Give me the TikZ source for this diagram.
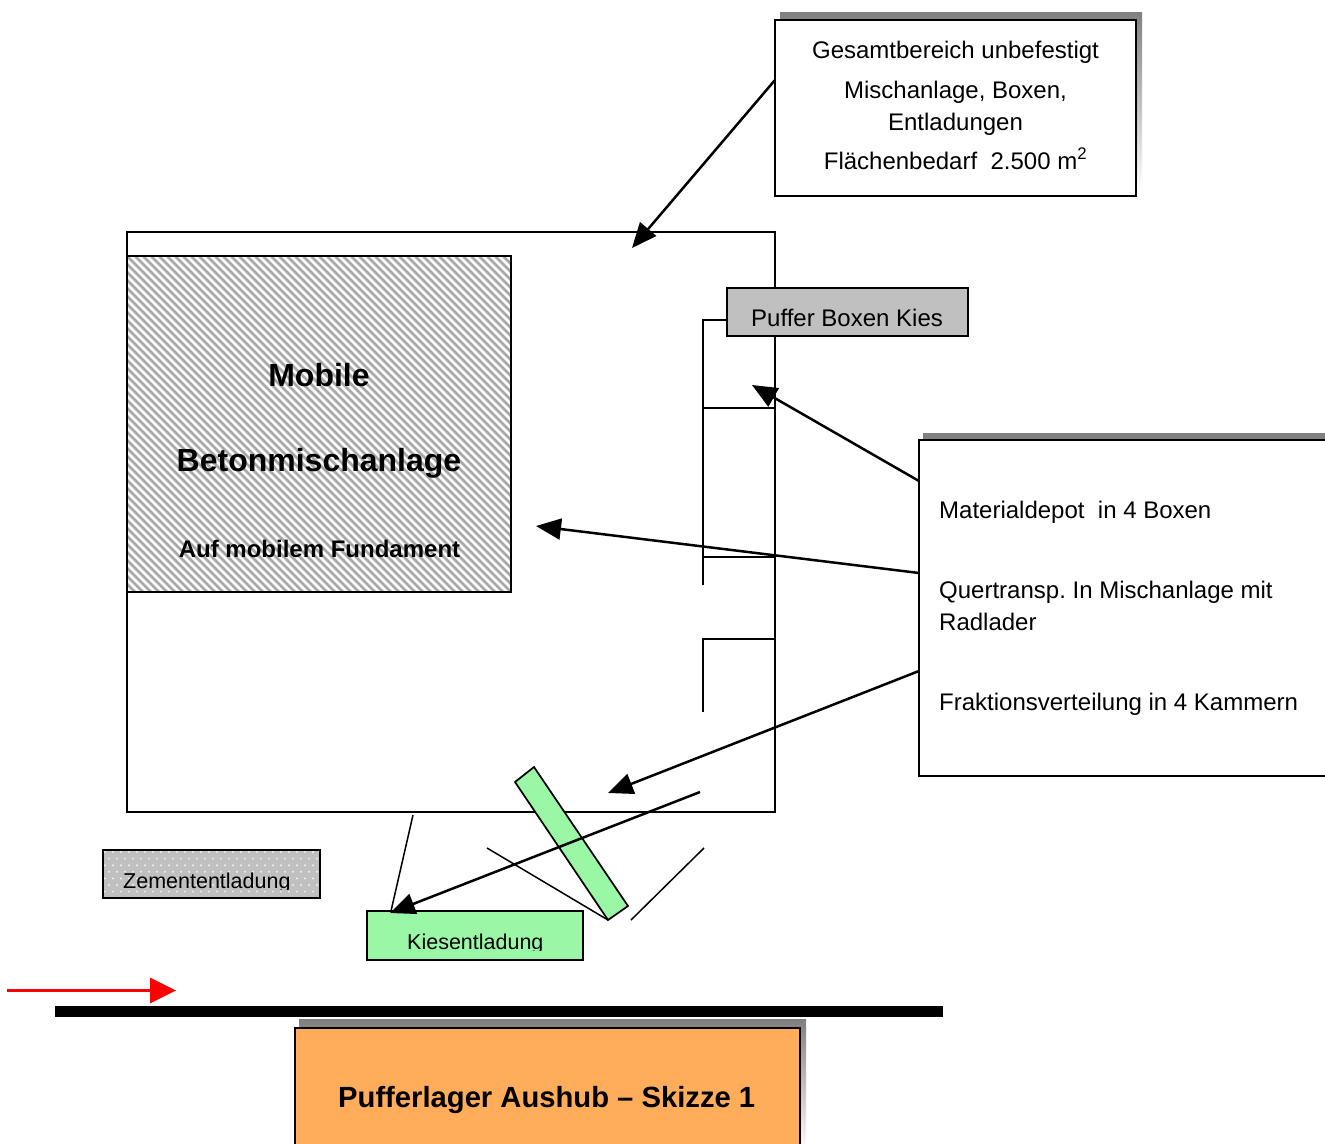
\documentclass[tikz,border=0pt]{standalone}
\usepackage{fontspec}
\setmainfont{Liberation Sans}
\usetikzlibrary{arrows.meta}
\definecolor{shade}{HTML}{808080}
\definecolor{boxgray}{HTML}{C0C0C0}
\definecolor{stripe}{HTML}{A8A8A8}
\definecolor{kies}{HTML}{99F7A6}
\definecolor{orangebox}{HTML}{FFAD5B}
\tikzset{
  x=1pt,y=-1pt,
  line/.style={draw=black,line width=1.7pt},
  thin line/.style={draw=black,line width=1.5pt},
  pointer/.style={draw=black,line width=2.5pt,-{Triangle[length=25pt,width=21pt]}},
  boxnode/.style={draw=black,line width=1.7pt,anchor=north west,inner sep=0pt,outer sep=0pt},
  label/.style={inner sep=0pt,font=\fontsize{24}{24}\selectfont},
  smalllabel/.style={inner sep=0pt,font=\fontsize{21.5}{24}\selectfont},
  bigbold/.style={inner sep=0pt,font=\fontsize{32}{32}\selectfont\bfseries},
}
\begin{document}
\frenchspacing
\begin{tikzpicture}
\useasboundingbox (0,0) rectangle (1325,1143);
\clip (0,0) rectangle (1325,1143);
% shadows
\fill[shade] (780,12) rectangle (1142,190);
\fill[shade] (923,433) rectangle (1335,780);
\fill[shade] (299,1019) rectangle (806,1150);
% main area
\node[boxnode,minimum width=648pt,minimum height=580pt] (area) at (127,232) {};
% hatched plant
\begin{scope}
\clip (127,256) rectangle (511,592);
\fill[white] (127,256) rectangle (511,592);
\foreach \k in {-50,...,60}
  \draw[draw=stripe,line width=2.8pt] (127+\k*8,256) -- ++(360,360);
\end{scope}
\node[boxnode,minimum width=384pt,minimum height=336pt] (plant) at (127,256) {};
\node[bigbold,anchor=base] (tmobile) at (319,386) {Mobile};
\node[bigbold,anchor=base] (tbeton) at (319,471) {Betonmischanlage};
\node[label,anchor=base,font=\fontsize{24}{24}\selectfont\bfseries] (tauf) at (319.5,557) {Auf mobilem Fundament};
% compartments
\coordinate (c1a) at (727,320); \coordinate (c1b) at (703,320); \coordinate (c1c) at (703,585);
\coordinate (c2a) at (703,408); \coordinate (c2b) at (775,408);
\coordinate (c3a) at (703,557); \coordinate (c3b) at (775,557);
\coordinate (c4a) at (775,639); \coordinate (c4b) at (703,639); \coordinate (c4c) at (703,712);
\draw[line] (c1a) -- (c1b) -- (c1c);
\draw[line] (c2a) -- (c2b);
\draw[line] (c3a) -- (c3b);
\draw[line] (c4a) -- (c4b) -- (c4c);
% puffer box
\node[boxnode,fill=boxgray,minimum width=241pt,minimum height=48pt] (puffer) at (727,288) {};
\node[label,anchor=base west] (tpuffer) at (751,326) {Puffer Boxen Kies};
% top info box
\node[boxnode,fill=white,minimum width=361pt,minimum height=176pt] (info) at (775,20) {};
\node[label,anchor=base] (i1) at (955.5,58) {Gesamtbereich unbefestigt};
\node[label,anchor=base] (i2) at (955.5,98) {Mischanlage, Boxen,};
\node[label,anchor=base] (i3) at (955.5,130) {Entladungen};
\node[label,anchor=base] (i4) at (955.5,169) {Flächenbedarf\ \ 2.500 m\textsuperscript{2}};
% right box
\node[boxnode,fill=white,minimum width=420pt,minimum height=336pt] (depot) at (919,440) {};
\node[label,anchor=base west] (d1) at (939,518) {Materialdepot\ \ in 4 Boxen};
\node[label,anchor=base west] (d2) at (939,598) {Quertransp. In Mischanlage mit};
\node[label,anchor=base west] (d3) at (939,630) {Radlader};
\node[label,anchor=base west] (d4) at (939,710) {Fraktionsverteilung in 4 Kammern};
% unloading boxes
\begin{scope}
\clip (103,850) rectangle (320,898);
\fill[boxgray] (103,850) rectangle (320,898);
\foreach \i in {0,...,27} \foreach \j in {0,...,6}
  \fill[white,opacity=.8] ({103+\i*8+mod(\j,2)*4+2},{852+\j*6.6}) circle (1.1pt);
\end{scope}
\node[boxnode,minimum width=217pt,minimum height=48pt] (zement) at (103,850) {};
\begin{scope}
\clip (103,850) rectangle (320,889);
\node[smalllabel,anchor=base west] (tzement) at (123,888) {Zemententladung};
\end{scope}
\node[boxnode,fill=kies,minimum width=216pt,minimum height=49pt] (kiesbox) at (367,911) {};
\begin{scope}
\clip (367,911) rectangle (583,950);
\node[smalllabel,anchor=base west] (tkies) at (407,949) {Kiesentladung};
\end{scope}
% lines and belt
\coordinate (l1a) at (413,815); \coordinate (l1b) at (391,911);
\coordinate (l2a) at (487,848); \coordinate (l2b) at (608,920);
\coordinate (l3a) at (704,848); \coordinate (l3b) at (631,920);
\draw[thin line] (l1a) -- (l1b);
\draw[thin line] (l2a) -- (l2b);
\draw[thin line] (l3a) -- (l3b);
\draw[line,fill=kies] (534,767) -- (515,782) -- (608,920) -- (628,906) -- cycle;
% pointers
\coordinate (p1s) at (775,80); \coordinate (p1e) at (632,248);
\coordinate (p2s) at (919,481); \coordinate (p2e) at (752,385);
\coordinate (p3s) at (919,573); \coordinate (p3e) at (536,526);
\coordinate (p4s) at (919,671); \coordinate (p4e) at (608,793);
\coordinate (p5s) at (700,792); \coordinate (p5e) at (390,913);
\draw[pointer] (p1s) -- (p1e);
\draw[pointer] (p2s) -- (p2e);
\draw[pointer] (p3s) -- (p3e);
\draw[pointer] (p4s) -- (p4e);
\draw[pointer] (p5s) -- (p5e);
% red arrow
\coordinate (rs) at (7,990.5); \coordinate (re) at (176,990.5);
\draw[draw=red,line width=3.2pt,-{Triangle[length=26pt,width=25pt]}] (rs) -- (re);
% road
\coordinate (ra) at (55,1011.5); \coordinate (rb) at (943,1011.5);
\draw[draw=black,line width=11pt] (ra) -- (rb);
% title
\node[boxnode,fill=orangebox,minimum width=505pt,minimum height=130pt] (title) at (295,1028) {};
\node[inner sep=0pt,anchor=base west,font=\fontsize{29.2}{29}\selectfont\bfseries] (ttitle) at (338,1107) {Pufferlager Aushub – Skizze 1};
\end{tikzpicture}
\end{document}
